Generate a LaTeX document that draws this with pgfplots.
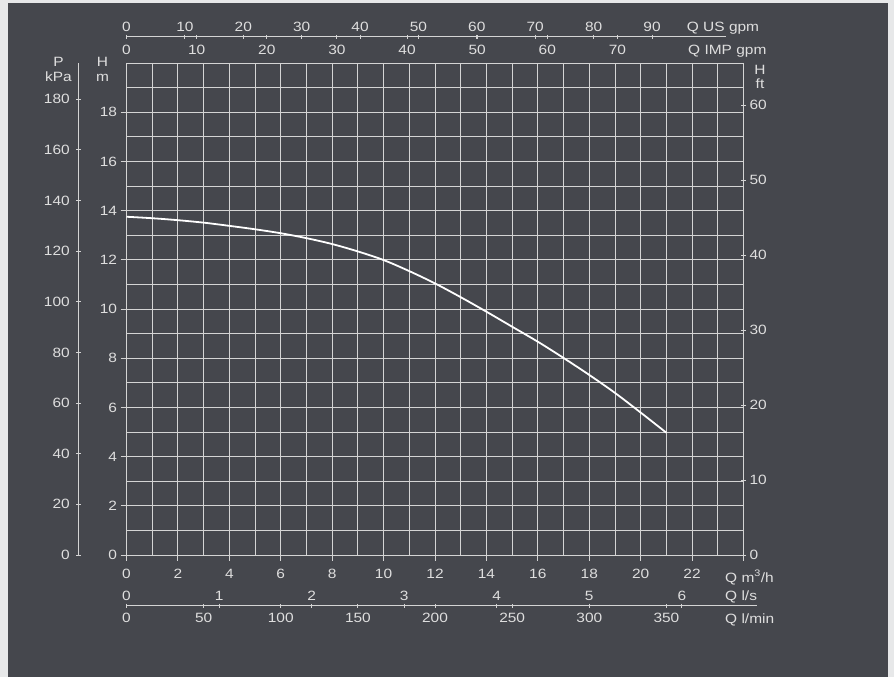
\documentclass[border=0pt]{standalone}
\usepackage{fontspec}
\setmainfont{Liberation Sans}[FakeStretch=1.15]
\usepackage{pgfplots}
\pgfplotsset{compat=1.18}

\definecolor{bgout}{HTML}{E7E8E9}
\definecolor{panel}{HTML}{45474D}
\definecolor{gridc}{HTML}{D4D4D4}
\definecolor{txt}{HTML}{DEDEDE}

\pgfplotsset{
  base/.style={
    scale only axis,
    anchor=south west,
    font=\fontsize{13.5}{16}\selectfont,
    /pgf/number format/assume math mode=true,
    tick label style={text=txt},
    axis line style={-, gridc, line width=0.9bp},
    tick style={gridc, line width=0.9bp},
    tick align=outside,
    major tick length=5bp,
  },
  noarrow/.style={
    every outer x axis line/.append style={-},
    every outer y axis line/.append style={-},
    every inner x axis line/.append style={-},
    every inner y axis line/.append style={-},
  },
  % scale strip along x (no y axis)
  xstrip/.style={
    base, height=1bp, ymin=0, ymax=1,
    axis y line=none,
  },
  % scale strip along y (no x axis)
  ystrip/.style={
    base, width=1bp, height=492bp, xmin=0, xmax=1,
    axis x line=none,
  },
}

\begin{document}
\begin{tikzpicture}
\fill[bgout] (0,0) rectangle (894bp,677bp);
\fill[panel] (8bp,0) rectangle (888bp,674bp);

% main chart: H [m] vs Q [m3/h]
\begin{axis}[base,
  at={(126.5bp,122bp)},
  width=617bp, height=492bp,
  xmin=0, xmax=24, ymin=0, ymax=20,
  xtick={0,2,...,24},
  xticklabels={0,2,4,6,8,10,12,14,16,18,20,22,},
  ytick={0,2,...,18},
  minor xtick={1,3,...,23},
  minor ytick={1,3,...,19},
  minor tick length=0bp,
  major tick length=6bp,
  xtick pos=bottom, ytick pos=left,
  grid=both,
  major grid style={gridc, line width=0.9bp},
  minor grid style={gridc, line width=0.9bp},
  xticklabel style={yshift=-5bp},
  clip=false,
]
\addplot[white, line width=1.8bp, smooth] coordinates {
  (0,13.75) (1,13.69) (2,13.61) (3,13.51) (4,13.38) (5,13.24)
  (6,13.08) (7,12.88) (8,12.64) (9,12.34) (10,11.99) (11,11.54)
  (12,11.04) (13,10.48) (14,9.89) (15,9.28) (16,8.67) (17,8.01)
  (18,7.32) (19,6.59) (20,5.79) (21,4.97)
};
% P scale line, left of the chart
\draw[gridc, line width=1.3bp] (axis cs:-1.855,0) -- (axis cs:-1.855,20);
\end{axis}

% P [kPa]
\begin{axis}[ystrip, at={(78.8bp,122bp)},
  axis y line=left, ymin=0, ymax=194.3, ytick={0,20,...,180},
  yticklabel style={xshift=-3bp}, noarrow]
\end{axis}

% H [ft]
\begin{axis}[ystrip, at={(742.5bp,122bp)},
  axis y line=right, ymin=0, ymax=65.62, ytick={0,10,...,60}, noarrow]
\end{axis}

% Q US gpm (top, above line)
\begin{axis}[xstrip, at={(126.5bp,640.3bp)}, anchor=north west,
  width=599.5bp, axis x line=top, xmin=0, xmax=102.67,
  xtick={0,10,...,90}, major tick length=4bp, noarrow]
\end{axis}

% Q IMP gpm (top, below line)
\begin{axis}[xstrip, at={(126.5bp,640.3bp)},
  width=599.5bp, axis x line=bottom, xmin=0, xmax=85.49,
  xtick={0,10,...,70}, major tick length=4bp,
  xticklabel style={yshift=-2.5bp}, noarrow]
\end{axis}

% Q l/s (bottom, above line)
\begin{axis}[xstrip, at={(126.5bp,71.3bp)}, anchor=north west,
  width=630.5bp, axis x line=top, xmin=0, xmax=6.812,
  xtick={0,1,...,6}, major tick length=4bp, noarrow]
\end{axis}

% Q l/min (bottom, below line)
\begin{axis}[xstrip, at={(126.5bp,71.3bp)},
  width=630.5bp, axis x line=bottom, xmin=0, xmax=408.7,
  xtick={0,50,...,350}, major tick length=4bp,
  xticklabel style={yshift=-2bp}, noarrow]
\end{axis}

\begin{scope}[every node/.style={text=txt, font=\fontsize{13.5}{14}\selectfont, inner sep=0pt}]
  \node[align=center, anchor=center] at (58.5bp,608bp) {P\\[1pt]kPa};
  \node[align=center, anchor=center] at (102.5bp,608bp) {H\\[1pt]m};
  \node[align=center, anchor=center] at (760bp,600.5bp) {H\\[0pt]ft};
  \node[anchor=west] at (686.7bp,649bp) {Q US gpm};
  \node[anchor=west] at (688bp,626bp) {Q IMP gpm};
  \node[anchor=west] at (725bp,99.5bp) {Q m\textsuperscript{3}/h};
  \node[anchor=west] at (725bp,80bp) {Q l/s};
  \node[anchor=west] at (725bp,57bp) {Q l/min};
\end{scope}

\pgfresetboundingbox
\path (0,0) rectangle (894bp,677bp);
\end{tikzpicture}
\end{document}
